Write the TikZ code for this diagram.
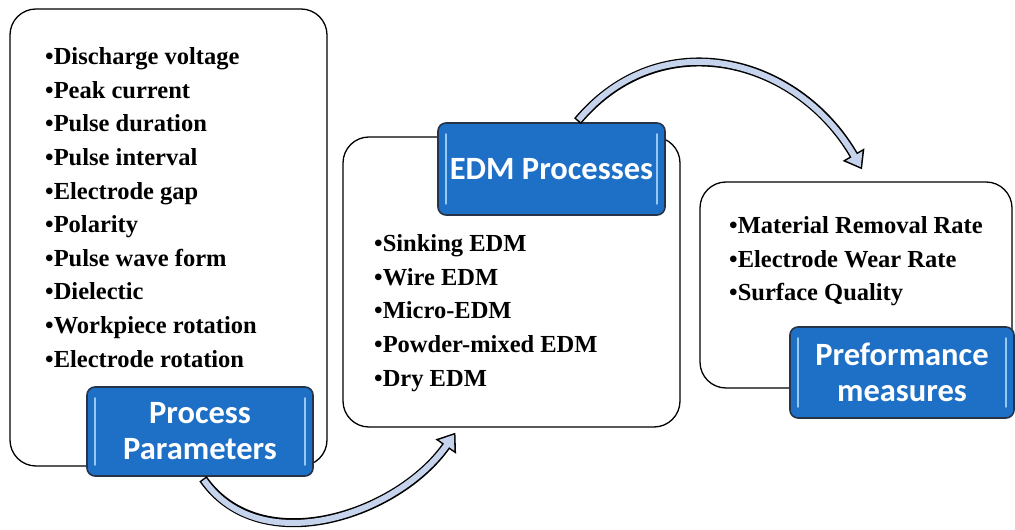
\documentclass[tikz,border=0pt]{standalone}
\usepackage{fontspec}
\newfontfamily\tagfont{Carlito}
\newfontfamily\listfont{Liberation Serif}
\usetikzlibrary{arrows.meta}
\definecolor{tagblue}{RGB}{30,112,198}
\definecolor{tagedge}{RGB}{38,52,74}
\definecolor{tagshine}{RGB}{150,200,240}
\definecolor{arrowblue}{RGB}{197,212,236}
\begin{document}
\begin{tikzpicture}[x=1pt,y=1pt,
		panel/.style={draw=black,line width=1.3pt,fill=white,rounded corners=26pt,inner sep=0pt},
		tag/.style={draw=tagedge,line width=1.6pt,fill=tagblue,rounded corners=8pt,inner sep=0pt,text=white,align=center,font=\tagfont\bfseries\fontsize{32.5}{36}\selectfont},
		items/.style={anchor=north west,align=left,inner sep=0pt,font=\listfont\bfseries\fontsize{24.5}{33.6}\selectfont},
		shine/.style={tagshine,line width=2pt,line cap=round},
		flowline/.style={line width=9pt,-{Triangle[width=24pt,length=17pt]}},
		flowfill/.style={line width=6pt,arrowblue,shorten <=1.5pt,shorten >=2.5pt,-{Triangle[width=18pt,length=13pt]}}]
		\useasboundingbox (0,0) rectangle (1015,530);
		% panels and tags
		\node[panel,minimum width=317pt,minimum height=457pt] (parampanel) at (168.5,292.5) {};
		\node[tag,minimum width=226pt,minimum height=89pt] (params) at (200,98.5) {Process\\Parameters};
		\node[panel,minimum width=337pt,minimum height=290pt] (procpanel) at (511.5,248) {};
		\node[tag,minimum width=227pt,minimum height=92pt] (procs) at (551.5,361) {EDM Processes};
		\node[panel,minimum width=312pt,minimum height=206pt] (perfpanel) at (856,245) {};
		\node[tag,minimum width=224pt,minimum height=91pt] (perf) at (902,157.5) {Preformance\\measures};
		\foreach \t in {params,procs,perf} {
			\draw[shine] ([xshift=9pt,yshift=-12pt]\t.north west) -- ([xshift=9pt,yshift=12pt]\t.south west);
			\draw[shine] ([xshift=-9pt,yshift=-12pt]\t.north east) -- ([xshift=-9pt,yshift=12pt]\t.south east);
		}
		% lists
		\node[items] (paramlist) at (45,482.5) {•Discharge voltage\\•Peak current\\•Pulse duration\\•Pulse interval\\•Electrode gap\\•Polarity\\•Pulse wave form\\•Dielectic\\•Workpiece rotation\\•Electrode rotation};
		\node[items] (proclist) at (374,295.5) {•Sinking EDM\\•Wire EDM\\•Micro-EDM\\•Powder-mixed EDM\\•Dry EDM};
		\node[items] (perflist) at (729,313.5) {•Material Removal Rate\\•Electrode Wear Rate\\•Surface Quality};
		% curved arrows
		\draw[flowline] ([xshift=3pt,yshift=-2pt]params.south) to[out=-55,in=-125] ([xshift=-56pt,yshift=-5pt]procpanel.south);
		\draw[flowfill] ([xshift=3pt,yshift=-2pt]params.south) to[out=-55,in=-125] ([xshift=-56pt,yshift=-5pt]procpanel.south);
		\draw[flowline] ([xshift=26pt,yshift=1pt]procs.north) to[out=50,in=120,looseness=1.15] ([xshift=6pt,yshift=12pt]perfpanel.north);
		\draw[flowfill] ([xshift=26pt,yshift=1pt]procs.north) to[out=50,in=120,looseness=1.15] ([xshift=6pt,yshift=12pt]perfpanel.north);
	\end{tikzpicture}
\end{document}
